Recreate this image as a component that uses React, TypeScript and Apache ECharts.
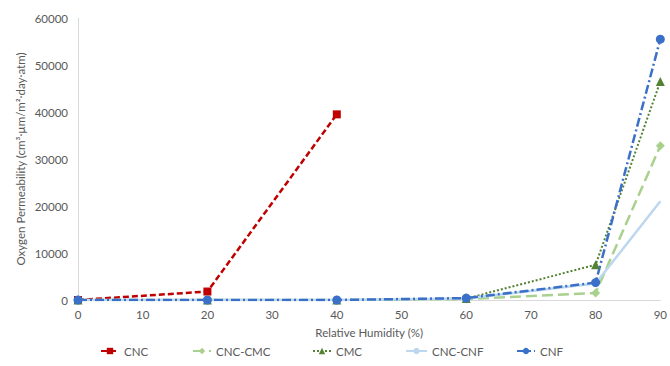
import React, { useEffect, useRef } from "react";
import * as echarts from "echarts";

const humidity = [0, 20, 40, 60, 80, 90];
const cnc = [0, 1800, 39500];
const cncCmc = [0, 0, 0, 200, 1500, 32800];
const cmc = [0, 0, 0, 300, 7500, 46500];
const cncCnf = [0, 0, 0, 300, 3500, 21000];
const cnf = [0, 0, 0, 400, 3700, 55500];

const font = "Lato";
const pair = (vals: number[]) => vals.map((v, i) => [humidity[i], v]);

export default function App() {
  const ref = useRef<HTMLDivElement>(null);
  useEffect(() => {
    const chart = echarts.init(ref.current!, null, { renderer: "svg" });
    const legendBase = {
      bottom: 9,
      padding: 0,
      itemWidth: 18,
      itemHeight: 8,
      itemGap: 4,
      textStyle: { color: "#595959", fontSize: 11.5, fontFamily: font },
    };
    chart.setOption({
      animation: false,
      textStyle: { fontFamily: font },
      grid: { left: 78, right: 6, top: 18, bottom: 66 },
      legend: [
        { ...legendBase, left: 100, data: ["CNC"] },
        { ...legendBase, left: 192, data: ["CNC-CMC"] },
        { ...legendBase, left: 312, data: ["CMC"] },
        { ...legendBase, left: 405, itemWidth: 21, data: ["CNC-CNF"] },
        { ...legendBase, left: 516, data: ["CNF"] },
      ],
      xAxis: {
        type: "value",
        min: 0,
        max: 90,
        interval: 10,
        name: "Relative Humidity (%)",
        nameLocation: "middle",
        nameGap: 26,
        nameTextStyle: { color: "#595959", fontSize: 11.5, fontFamily: font },
        axisLine: { lineStyle: { color: "#d9d9d9" } },
        axisTick: { show: false },
        splitLine: { show: false },
        axisLabel: { color: "#595959", fontSize: 11.5, fontFamily: font, margin: 8 },
      },
      yAxis: {
        type: "value",
        min: 0,
        max: 60000,
        interval: 10000,
        name: "Oxygen Permeability (cm³·µm/m²·day·atm)",
        nameLocation: "middle",
        nameGap: 52,
        nameMoveOverlap: false,
        nameTextStyle: { color: "#595959", fontSize: 11.5, fontFamily: font },
        axisLine: { show: true, lineStyle: { color: "#d9d9d9" } },
        axisTick: { show: false },
        splitLine: { show: false },
        axisLabel: {
          color: "#595959",
          fontSize: 11.5,
          fontFamily: font,
          margin: 10,
          formatter: (v: number) => String(v),
        },
      },
      series: [
        {
          name: "CNC",
          type: "line",
          data: pair(cnc),
          symbol: "rect",
          symbolSize: 8,
          itemStyle: { color: "#c00000" },
          lineStyle: { color: "#c00000", width: 2.5, type: [6, 3] },
          z: 3,
        },
        {
          name: "CNC-CMC",
          type: "line",
          data: pair(cncCmc),
          symbol: "diamond",
          symbolSize: 9,
          itemStyle: { color: "#a9d18e" },
          lineStyle: { color: "#a9d18e", width: 2.5, type: [11, 5] },
        },
        {
          name: "CMC",
          type: "line",
          data: pair(cmc),
          symbol: "triangle",
          symbolSize: 9,
          itemStyle: { color: "#548235" },
          lineStyle: { color: "#548235", width: 2, type: [2, 2] },
        },
        {
          name: "CNC-CNF",
          type: "line",
          data: pair(cncCnf),
          symbol: "none",
          itemStyle: { color: "#bdd7ee" },
          lineStyle: { color: "#bdd7ee", width: 2.5, type: "solid" },
        },
        {
          name: "CNF",
          type: "line",
          data: pair(cnf),
          symbol: "circle",
          symbolSize: 9,
          itemStyle: { color: "#3a70c8" },
          lineStyle: { color: "#3a70c8", width: 2.5, type: [9, 3, 2, 3] },
        },
      ],
    });
    return () => chart.dispose();
  }, []);
  return (
    <div
      ref={ref}
      style={{ position: "absolute", left: 0, top: 0, width: 670, height: 366 }}
    />
  );
}
